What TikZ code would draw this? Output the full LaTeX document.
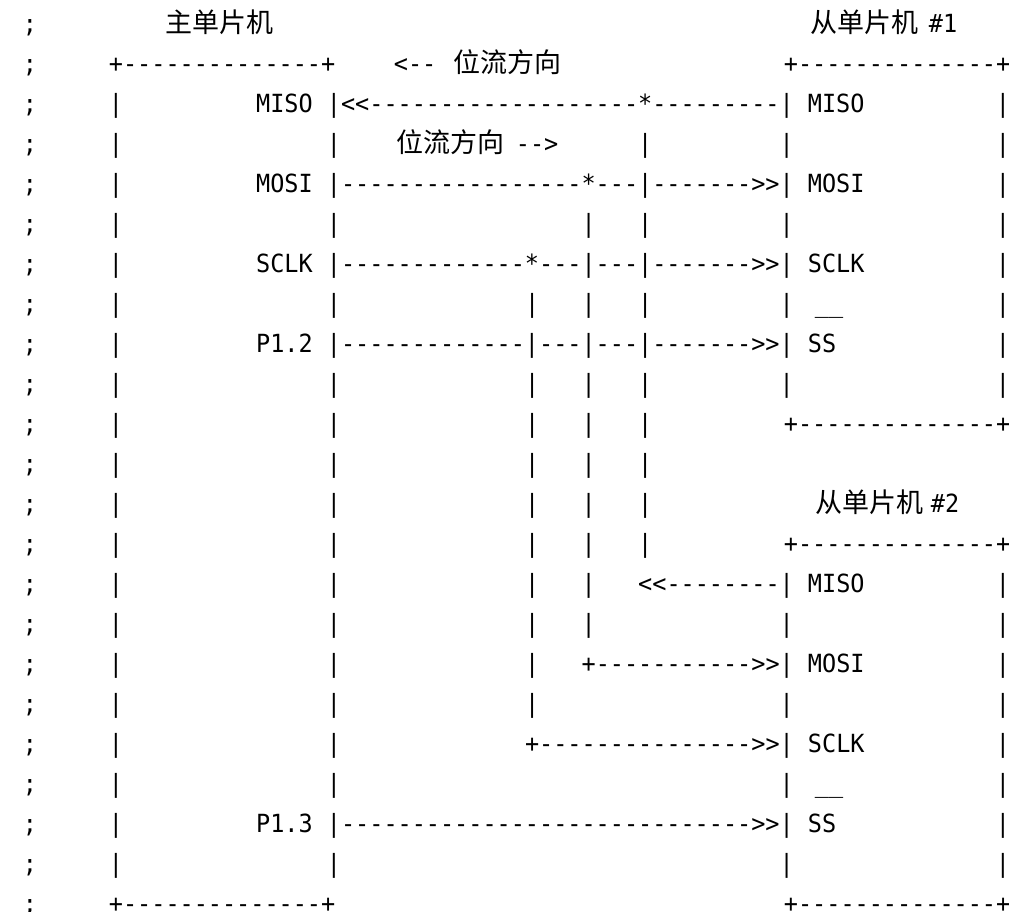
\documentclass[tikz,border=0pt]{standalone}
\usepackage{fontspec}
\newfontfamily\asciifont[Ligatures=TeXOff,FakeStretch=0.94]{DejaVu Sans Mono}
\newfontfamily\cjkfont{Noto Sans CJK SC}
\newcommand\gtxt[4]{\node[mono] (#1) at ({334+(#3-21)*14.15-7.075},{32.3+40*(#2-1)}) {#4};}
\newcommand\ptxt[4]{\node[mono] (#1) at ({#3-7.075},{32.3+40*(#2-1)}) {#4};}
\newcommand\ctxt[4]{\node[cjk] (#1) at ({#3-1.3},{32.3+40*(#2-1)}) {#4};}
\newcommand\rbar[2]{\node[mono,anchor=base] (#1) at (1003,{32.3+40*(#2-1)}) {\makebox[0pt]{|}};}
\newcommand\rtop[2]{\node[mono] (#1) at ({791-7.075},{32.3+40*(#2-1)}) {\smash{\makebox[\dimexpr\width-7.5pt\relax][l]{+--------------+}}};}
\newcommand\rowbars[2]{%
  \ptxt{s#1}{#1}{30}{;}%
  \foreach \c [count=\k] in {#2} {\gtxt{b#1x\k}{#1}{\c}{|}}}
\tikzset{
  mono/.style={anchor=base west, inner sep=0pt, outer sep=0pt, text=black,
    font=\asciifont\fontsize{25}{30}\selectfont},
  cjk/.style={anchor=base west, inner sep=0pt, outer sep=0pt, text=black,
    font=\cjkfont\fontsize{27}{32}\selectfont}
}
\begin{document}
\begin{tikzpicture}[x=1pt,y=-1pt]
\useasboundingbox[fill=white] (0,0) rectangle (1009,911);
% row 1
\ptxt{s1}{1}{30}{;}
\ctxt{master}{1}{167}{主单片机}
\ctxt{slave1}{1}{812}{从单片机}
\ptxt{n1}{1}{936}{\#1}
% row 2
\ptxt{s2}{2}{30}{;}
\ptxt{mtop}{2}{116}{+--------------+}
\ptxt{arrL}{2}{401}{<--}
\ctxt{flowL}{2}{455}{位流方向}
\rtop{s1top}{2}
% row 3
\ptxt{s3}{3}{30}{;}
\ptxt{l3}{3}{116}{|}
\gtxt{miso1}{3}{16}{MISO |<<-------------------*---------| MISO}
\rbar{r3}{3}
% row 4
\rowbars{4}{21,43,53}
\ptxt{l4}{4}{116}{|}
\ctxt{flowR}{4}{398}{位流方向}
\ptxt{arrR}{4}{523}{-->}
\rbar{r4}{4}
% row 5
\ptxt{s5}{5}{30}{;}
\ptxt{l5}{5}{116}{|}
\gtxt{mosi1}{5}{16}{MOSI |-----------------*---|------->>| MOSI}
\rbar{r5}{5}
% row 6
\rowbars{6}{21,39,43,53}
\ptxt{l6}{6}{116}{|}
\rbar{r6}{6}
% row 7
\ptxt{s7}{7}{30}{;}
\ptxt{l7}{7}{116}{|}
\gtxt{sclk1}{7}{16}{SCLK |-------------*---|---|------->>| SCLK}
\rbar{r7}{7}
% row 8
\rowbars{8}{21,35,39,43,53}
\ptxt{l8}{8}{116}{|}
\ptxt{ov1}{8}{822}{\_\_}
\rbar{r8}{8}
% row 9
\ptxt{s9}{9}{30}{;}
\ptxt{l9}{9}{116}{|}
\gtxt{ss1}{9}{16}{P1.2 |-------------|---|---|------->>| SS}
\rbar{r9}{9}
% row 10
\rowbars{10}{21,35,39,43,53}
\ptxt{l10}{10}{116}{|}
\rbar{r10}{10}
% row 11
\rowbars{11}{21,35,39,43}
\ptxt{l11}{11}{116}{|}
\rtop{s1bot}{11}
% row 12
\rowbars{12}{21,35,39,43}
\ptxt{l12}{12}{116}{|}
% row 13
\rowbars{13}{21,35,39,43}
\ptxt{l13}{13}{116}{|}
\ctxt{slave2}{13}{817}{从单片机}
\ptxt{n2}{13}{938}{\#2}
% row 14
\rowbars{14}{21,35,39,43}
\ptxt{l14}{14}{116}{|}
\rtop{s2top}{14}
% row 15
\rowbars{15}{21,35,39}
\ptxt{l15}{15}{116}{|}
\gtxt{miso2}{15}{43}{<<--------| MISO}
\rbar{r15}{15}
% row 16
\rowbars{16}{21,35,39,53}
\ptxt{l16}{16}{116}{|}
\rbar{r16}{16}
% row 17
\rowbars{17}{21,35}
\ptxt{l17}{17}{116}{|}
\gtxt{mosi2}{17}{39}{+----------->>| MOSI}
\rbar{r17}{17}
% row 18
\rowbars{18}{21,35,53}
\ptxt{l18}{18}{116}{|}
\rbar{r18}{18}
% row 19
\rowbars{19}{21}
\ptxt{l19}{19}{116}{|}
\gtxt{sclk2}{19}{35}{+--------------->>| SCLK}
\rbar{r19}{19}
% row 20
\rowbars{20}{21,53}
\ptxt{l20}{20}{116}{|}
\ptxt{ov2}{20}{822}{\_\_}
\rbar{r20}{20}
% row 21
\ptxt{s21}{21}{30}{;}
\ptxt{l21}{21}{116}{|}
\gtxt{ss2}{21}{16}{P1.3 |----------------------------->>| SS}
\rbar{r21}{21}
% row 22
\rowbars{22}{21,53}
\ptxt{l22}{22}{116}{|}
\rbar{r22}{22}
% row 23
\ptxt{s23}{23}{30}{\smash{;}}
\ptxt{mbot}{23}{116}{\smash{+--------------+}}
\rtop{s2bot}{23}
\end{tikzpicture}
\end{document}
